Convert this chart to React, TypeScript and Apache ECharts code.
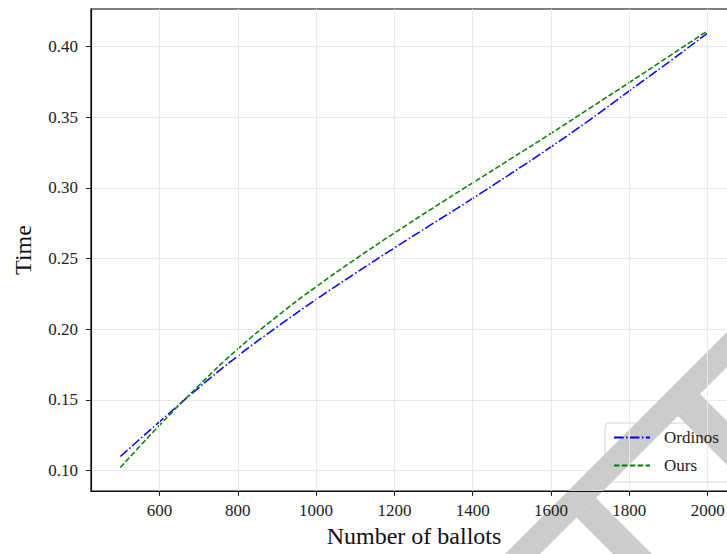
import React, { useEffect, useRef } from "react";
import * as echarts from "echarts";

const ballots = [500, 600, 700, 800, 900, 1000, 1100, 1200, 1300, 1400, 1500, 1600, 1700, 1800, 1900, 2000];
const ordinos = [0.1099, 0.1345, 0.1585, 0.1810, 0.2015, 0.2210, 0.2395, 0.2575, 0.2750, 0.2925, 0.3105, 0.3290, 0.3483, 0.3686, 0.3888, 0.4095];
const ours = [0.1021, 0.1320, 0.1600, 0.1860, 0.2090, 0.2300, 0.2495, 0.2680, 0.2860, 0.3035, 0.3210, 0.3385, 0.3565, 0.3745, 0.3928, 0.4111];
const seriesNames = ["Ordinos", "Ours"];
const xTicks = [600, 800, 1000, 1200, 1400, 1600, 1800, 2000];
const yTicks = [0.1, 0.15, 0.2, 0.25, 0.3, 0.35, 0.4];

const FONT = "'Liberation Serif', 'Times New Roman', serif";
const WM = "#cccccc";

export default function App() {
  const ref = useRef<HTMLDivElement>(null);
  useEffect(() => {
    if (!ref.current) return;
    const chart = echarts.init(ref.current, null, { renderer: "svg" });
    const toPairs = (ys: number[]) => ballots.map((x, i) => [x, ys[i]]);
    chart.setOption({
      animation: false,
      backgroundColor: "#ffffff",
      grid: {
        left: 91,
        top: 9,
        width: 646,
        height: 482,
        outerBoundsMode: "none",
        containLabel: false,
        show: true,
        borderColor: "#000",
        borderWidth: 1.2,
        backgroundColor: "transparent",
      },
      xAxis: {
        type: "value",
        min: 425,
        max: 2075,
        minInterval: 200,
        maxInterval: 200,
        z: 10,
        name: "Number of ballots",
        nameLocation: "middle",
        nameGap: 31,
        nameTextStyle: { fontFamily: FONT, fontSize: 24, color: "#111" },
        axisLine: { show: true, onZero: false, lineStyle: { color: "#111", width: 1.2 } },
        axisTick: { show: true, length: 5, lineStyle: { color: "#222" }, customValues: xTicks },
        axisLabel: {
          fontFamily: FONT,
          fontSize: 17,
          color: "#222",
          margin: 11,
          customValues: xTicks,
          formatter: (v: number) => (v % 200 === 0 ? String(v) : ""),
        },
        splitLine: { show: true, lineStyle: { color: "#e9e9e9", width: 1 } },
      },
      yAxis: {
        type: "value",
        min: 0.0855,
        max: 0.4265,
        minInterval: 0.05,
        maxInterval: 0.05,
        name: "Time",
        nameLocation: "middle",
        nameGap: 56,
        nameTextStyle: { fontFamily: FONT, fontSize: 24, color: "#111" },
        axisLine: { show: true, onZero: false, lineStyle: { color: "#111", width: 1.2 } },
        axisTick: { show: true, length: 5, lineStyle: { color: "#222" }, customValues: yTicks },
        axisLabel: {
          fontFamily: FONT,
          fontSize: 17,
          color: "#222",
          margin: 13,
          customValues: yTicks,
          formatter: (v: number) => {
            const k = Math.round(v / 0.05);
            return Math.abs(v - k * 0.05) < 1e-6 ? v.toFixed(2) : "";
          },
        },
        splitLine: { show: true, lineStyle: { color: "#e9e9e9", width: 1 } },
      },
      legend: {
        show: true,
        orient: "vertical",
        left: 605,
        top: 423,
        z: 10,
        padding: [6, 8, 7, 8],
        itemWidth: 36,
        itemHeight: 17,
        itemGap: 11,
        backgroundColor: "transparent",
        borderWidth: 0,
        data: seriesNames,
        itemStyle: { opacity: 0, color: "transparent", borderColor: "transparent" },
        textStyle: { fontFamily: FONT, fontSize: 17, color: "#222", padding: [0, 0, 0, 9] },
      },
      graphic: [
        {
          type: "rect",
          z: 3,
          shape: { x: 605, y: 423, width: 130, height: 59, r: 4 },
          style: { fill: "rgba(255,255,255,0.85)", stroke: "#d4d4d4", lineWidth: 1 },
        },
        {
          type: "polygon",
          z: 4,
          shape: { points: [[505, 554], [540, 554], [727, 367], [727, 332]] },
          style: { fill: WM },
        },
        {
          type: "polygon",
          z: 4,
          shape: { points: [[576.5, 517.5], [596, 498], [652, 554], [613, 554]] },
          style: { fill: WM },
        },
        {
          type: "polygon",
          z: 4,
          shape: { points: [[700, 394], [727, 421], [727, 465], [678, 416]] },
          style: { fill: WM },
        },
      ],
      series: [
        {
          name: seriesNames[0],
          type: "line",
          data: toPairs(ordinos),
          showSymbol: false,
          symbol: "none",
          smooth: 0.5,
          lineStyle: { color: "#0000ff", width: 1.5, type: [9.6, 2.4, 1.5, 2.4] },
          itemStyle: { color: "#0000ff" },
        },
        {
          name: seriesNames[1],
          type: "line",
          data: toPairs(ours),
          showSymbol: false,
          symbol: "none",
          smooth: 0.5,
          lineStyle: { color: "#008000", width: 1.5, type: [5.5, 2.4] },
          itemStyle: { color: "#008000" },
        },
      ],
    });
    return () => chart.dispose();
  }, []);
  return (
    <div
      ref={ref}
      style={{ position: "fixed", left: 0, top: 0, width: 727, height: 554, background: "#fff" }}
    />
  );
}
